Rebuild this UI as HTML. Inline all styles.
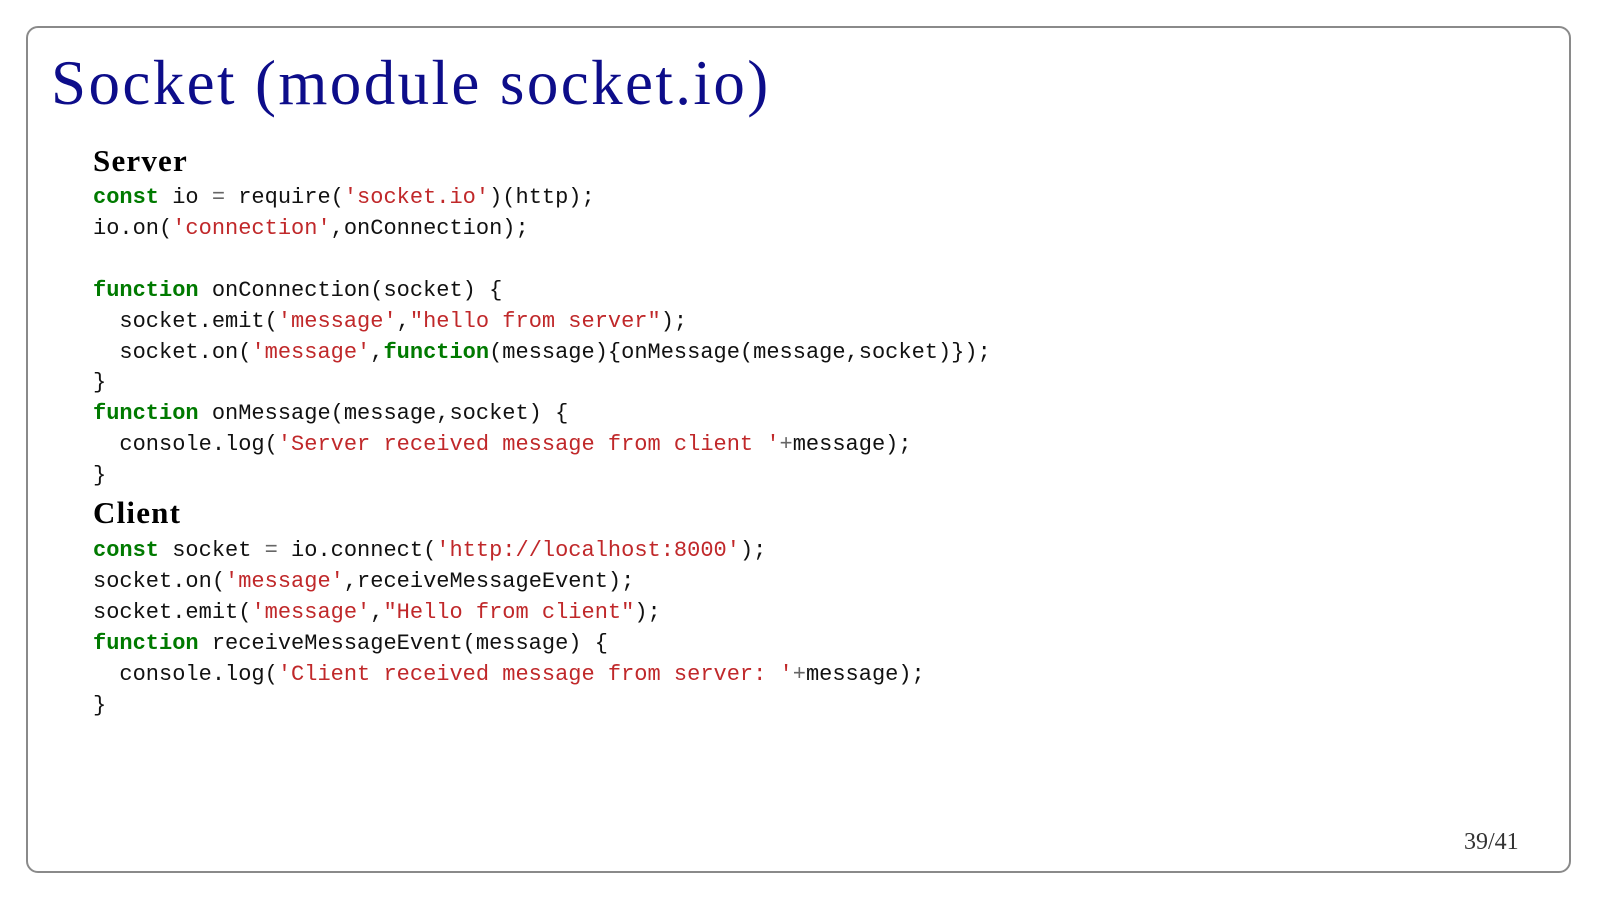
<!DOCTYPE html>
<html><head><meta charset="utf-8"><style>
html,body{margin:0;padding:0;background:#fff;width:1600px;height:902px;overflow:hidden;position:relative}
.box{position:absolute;left:26px;top:26px;width:1545px;height:847px;border:2px solid #8a8a8a;border-radius:12px;box-sizing:border-box}
.t{position:absolute;line-height:1;white-space:pre;font-family:"Liberation Serif",serif}
.title{left:51px;top:52px;font-size:63px;color:#0d0d8a;letter-spacing:2.4px}
.h{font-size:31px;font-weight:bold;color:#000;left:93px;letter-spacing:1.2px}
pre{position:absolute;left:93px;margin:0;font-family:"Liberation Mono",monospace;font-size:22px;line-height:30.9px;color:#111}
.k{color:#007a00;font-weight:bold}
.s{color:#c0282a}
.o{color:#666}
</style></head><body>
<div class="box"></div>
<div class="t title">Socket (module socket.io)</div>
<div class="t h" style="top:145px">Server</div>
<pre style="top:183px"><span class="k">const</span> io <span class="o">=</span> require(<span class="s">'socket.io'</span>)(http);
io.on(<span class="s">'connection'</span>,onConnection);

<span class="k">function</span> onConnection(socket) {
  socket.emit(<span class="s">'message'</span>,<span class="s">"hello from server"</span>);
  socket.on(<span class="s">'message'</span>,<span class="k">function</span>(message){onMessage(message,socket)});
}
<span class="k">function</span> onMessage(message,socket) {
  console.log(<span class="s">'Server received message from client '</span><span class="o">+</span>message);
}</pre>
<div class="t h" style="top:497px">Client</div>
<pre style="top:536px"><span class="k">const</span> socket <span class="o">=</span> io.connect(<span class="s">'http://localhost:8000'</span>);
socket.on(<span class="s">'message'</span>,receiveMessageEvent);
socket.emit(<span class="s">'message'</span>,<span class="s">"Hello from client"</span>);
<span class="k">function</span> receiveMessageEvent(message) {
  console.log(<span class="s">'Client received message from server: '</span><span class="o">+</span>message);
}</pre>
<div class="t" style="left:1464px;top:830px;font-size:24px;color:#333">39/41</div>
</body></html>
